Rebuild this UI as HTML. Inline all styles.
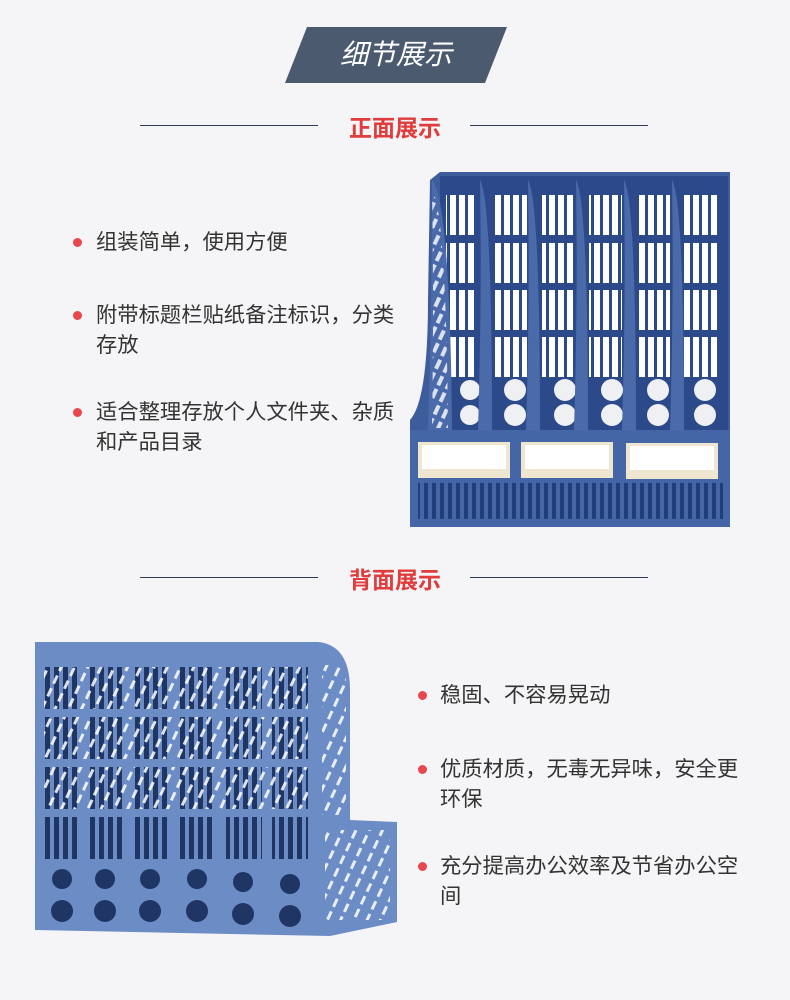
<!DOCTYPE html>
<html><head><meta charset="utf-8"><style>
body{margin:0;width:790px;height:1000px;background:#f5f5f7;position:relative;overflow:hidden;font-family:"Liberation Sans","Noto Sans CJK SC",sans-serif}
.a{position:absolute}
.ban{left:285px;top:27px;width:222px;height:56px;background:#4b5a6e;clip-path:polygon(22px 0,100% 0,200px 100%,0 100%);color:#fff;font-size:28px;line-height:56px;text-align:center;font-style:italic}
.sec{color:#e03c3c;font-size:23px;font-weight:bold;width:200px;text-align:center;left:295px}
.ln{height:1px;background:#2d3b56;width:178px}
.b{font-size:21.3px;color:#333;line-height:30px;white-space:nowrap}
.d{width:9px;height:9px;border-radius:50%;background:#e8474b}
</style></head><body>
<div class="a ban">细节展示</div>
<div class="a ln" style="left:140px;top:125px"></div><div class="a ln" style="left:470px;top:125px"></div>
<div class="a sec" style="top:109px">正面展示</div>
<div class="a ln" style="left:140px;top:577px"></div><div class="a ln" style="left:470px;top:577px"></div>
<div class="a sec" style="top:561px">背面展示</div>

<div class="a d" style="left:73px;top:238px"></div><div class="a b" style="left:96px;top:227px">组装简单，使用方便</div>
<div class="a d" style="left:73px;top:311px"></div><div class="a b" style="left:96px;top:300px">附带标题栏贴纸备注标识，分类<br>存放</div>
<div class="a d" style="left:73px;top:408px"></div><div class="a b" style="left:96px;top:397px">适合整理存放个人文件夹、杂质<br>和产品目录</div>

<div class="a d" style="left:418px;top:691px"></div><div class="a b" style="left:440px;top:680px">稳固、不容易晃动</div>
<div class="a d" style="left:418px;top:765px"></div><div class="a b" style="left:440px;top:754px">优质材质，无毒无异味，安全更<br>环保</div>
<div class="a d" style="left:418px;top:862px"></div><div class="a b" style="left:440px;top:851px">充分提高办公效率及节省办公空<br>间</div>

<svg class="a" style="left:0;top:0" width="790" height="1000">
<defs>
<pattern id="vs" width="9" height="10" patternUnits="userSpaceOnUse"><rect width="6" height="10" fill="#fff"/></pattern>
<pattern id="dg" width="9" height="14" patternUnits="userSpaceOnUse" patternTransform="rotate(25)"><rect width="4" height="10" fill="#fff"/></pattern>
<pattern id="gr" width="8" height="10" patternUnits="userSpaceOnUse"><rect width="4" height="10" fill="#213d7a"/></pattern>
<pattern id="bs" width="9" height="10" patternUnits="userSpaceOnUse"><rect width="5" height="10" fill="#1f3563"/></pattern>
<pattern id="bd" width="12" height="14" patternUnits="userSpaceOnUse" patternTransform="rotate(25)"><rect width="3" height="9" fill="#fff"/></pattern>
</defs>
<path d="M430 180 L440 172 L730 172 L730 440 L410 440 L410 420 Q428 400 428 300 Z" fill="#3d5c9c"/>
<rect x="440" y="176" width="288" height="255" fill="#2c4a8a"/>
<g fill="url(#vs)">
<rect x="446" y="195" width="30" height="40"/><rect x="446" y="243" width="30" height="40"/><rect x="446" y="290" width="30" height="40"/><rect x="446" y="337" width="30" height="40"/>
<rect x="494" y="195" width="33" height="40"/><rect x="494" y="243" width="33" height="40"/><rect x="494" y="290" width="33" height="40"/><rect x="494" y="337" width="33" height="40"/>
<rect x="542" y="195" width="33" height="40"/><rect x="542" y="243" width="33" height="40"/><rect x="542" y="290" width="33" height="40"/><rect x="542" y="337" width="33" height="40"/>
<rect x="589" y="195" width="33" height="40"/><rect x="589" y="243" width="33" height="40"/><rect x="589" y="290" width="33" height="40"/><rect x="589" y="337" width="33" height="40"/>
<rect x="637" y="195" width="33" height="40"/><rect x="637" y="243" width="33" height="40"/><rect x="637" y="290" width="33" height="40"/><rect x="637" y="337" width="33" height="40"/>
<rect x="684" y="195" width="36" height="40"/><rect x="684" y="243" width="36" height="40"/><rect x="684" y="290" width="36" height="40"/><rect x="684" y="337" width="36" height="40"/>
</g>
<g fill="#eef0f4">
<circle cx="470" cy="390" r="10"/><circle cx="470" cy="415" r="10"/>
<circle cx="515" cy="390" r="11"/><circle cx="515" cy="415" r="11"/>
<circle cx="565" cy="390" r="11"/><circle cx="565" cy="415" r="11"/>
<circle cx="612" cy="390" r="11"/><circle cx="612" cy="415" r="11"/>
<circle cx="658" cy="390" r="11"/><circle cx="658" cy="415" r="11"/>
<circle cx="705" cy="390" r="11"/><circle cx="705" cy="415" r="11"/>
</g>
<g fill="#4a6aaa">
<path d="M432 180 Q450 200 452 430 L428 430 Q432 300 432 180Z"/>
<path d="M480 180 Q492 200 492 430 L478 430 Q482 300 480 180Z"/>
<path d="M528 180 Q540 200 540 430 L526 430 Q530 300 528 180Z"/>
<path d="M576 180 Q588 200 588 430 L574 430 Q578 300 576 180Z"/>
<path d="M624 180 Q636 200 636 430 L622 430 Q626 300 624 180Z"/>
<path d="M672 180 Q684 200 684 430 L670 430 Q674 300 672 180Z"/>
</g>
<path d="M432 190 Q446 210 448 428 L432 428 Q434 300 432 190Z" fill="url(#dg)" opacity=".8"/>
<rect x="410" y="430" width="320" height="97" fill="#4566a6"/>
<g fill="#efe6cf"><rect x="418" y="442" width="92" height="36"/><rect x="521" y="442" width="92" height="36"/><rect x="626" y="443" width="92" height="36"/></g>
<g fill="#fff"><rect x="422" y="445" width="84" height="24"/><rect x="525" y="445" width="84" height="24"/><rect x="630" y="446" width="84" height="24"/></g>
<rect x="418" y="483" width="305" height="36" fill="url(#gr)"/>
<path d="M35 642 L318 642 Q350 645 350 690 L350 820 L397 822 L397 922 L330 936 L35 930 Z" fill="#6c8cc6"/>
<g fill="url(#bs)">
<rect x="44" y="667" width="36" height="42"/><rect x="44" y="717" width="36" height="42"/><rect x="44" y="767" width="36" height="42"/><rect x="44" y="817" width="36" height="42"/>
<rect x="89" y="667" width="36" height="42"/><rect x="89" y="717" width="36" height="42"/><rect x="89" y="767" width="36" height="42"/><rect x="89" y="817" width="36" height="42"/>
<rect x="135" y="667" width="36" height="42"/><rect x="135" y="717" width="36" height="42"/><rect x="135" y="767" width="36" height="42"/><rect x="135" y="817" width="36" height="42"/>
<rect x="180" y="667" width="36" height="42"/><rect x="180" y="717" width="36" height="42"/><rect x="180" y="767" width="36" height="42"/><rect x="180" y="817" width="36" height="42"/>
<rect x="226" y="667" width="36" height="42"/><rect x="226" y="717" width="36" height="42"/><rect x="226" y="767" width="36" height="42"/><rect x="226" y="817" width="36" height="42"/>
<rect x="272" y="667" width="36" height="42"/><rect x="272" y="717" width="36" height="42"/><rect x="272" y="767" width="36" height="42"/><rect x="272" y="817" width="36" height="42"/>
</g>
<g fill="url(#bd)" opacity=".85">
<rect x="44" y="667" width="264" height="42"/><rect x="44" y="717" width="264" height="42"/><rect x="44" y="767" width="264" height="42"/>
<rect x="322" y="665" width="24" height="150"/><rect x="325" y="830" width="65" height="90"/>
</g>
<g fill="#1f3563">
<circle cx="62" cy="879" r="10"/><circle cx="62" cy="911" r="11"/>
<circle cx="105" cy="879" r="10"/><circle cx="105" cy="911" r="11"/>
<circle cx="150" cy="879" r="10"/><circle cx="150" cy="911" r="11"/>
<circle cx="197" cy="879" r="10"/><circle cx="197" cy="911" r="11"/>
<circle cx="243" cy="882" r="10"/><circle cx="243" cy="914" r="11"/>
<circle cx="290" cy="884" r="10"/><circle cx="290" cy="916" r="11"/>
</g>
</svg>
</body></html>
